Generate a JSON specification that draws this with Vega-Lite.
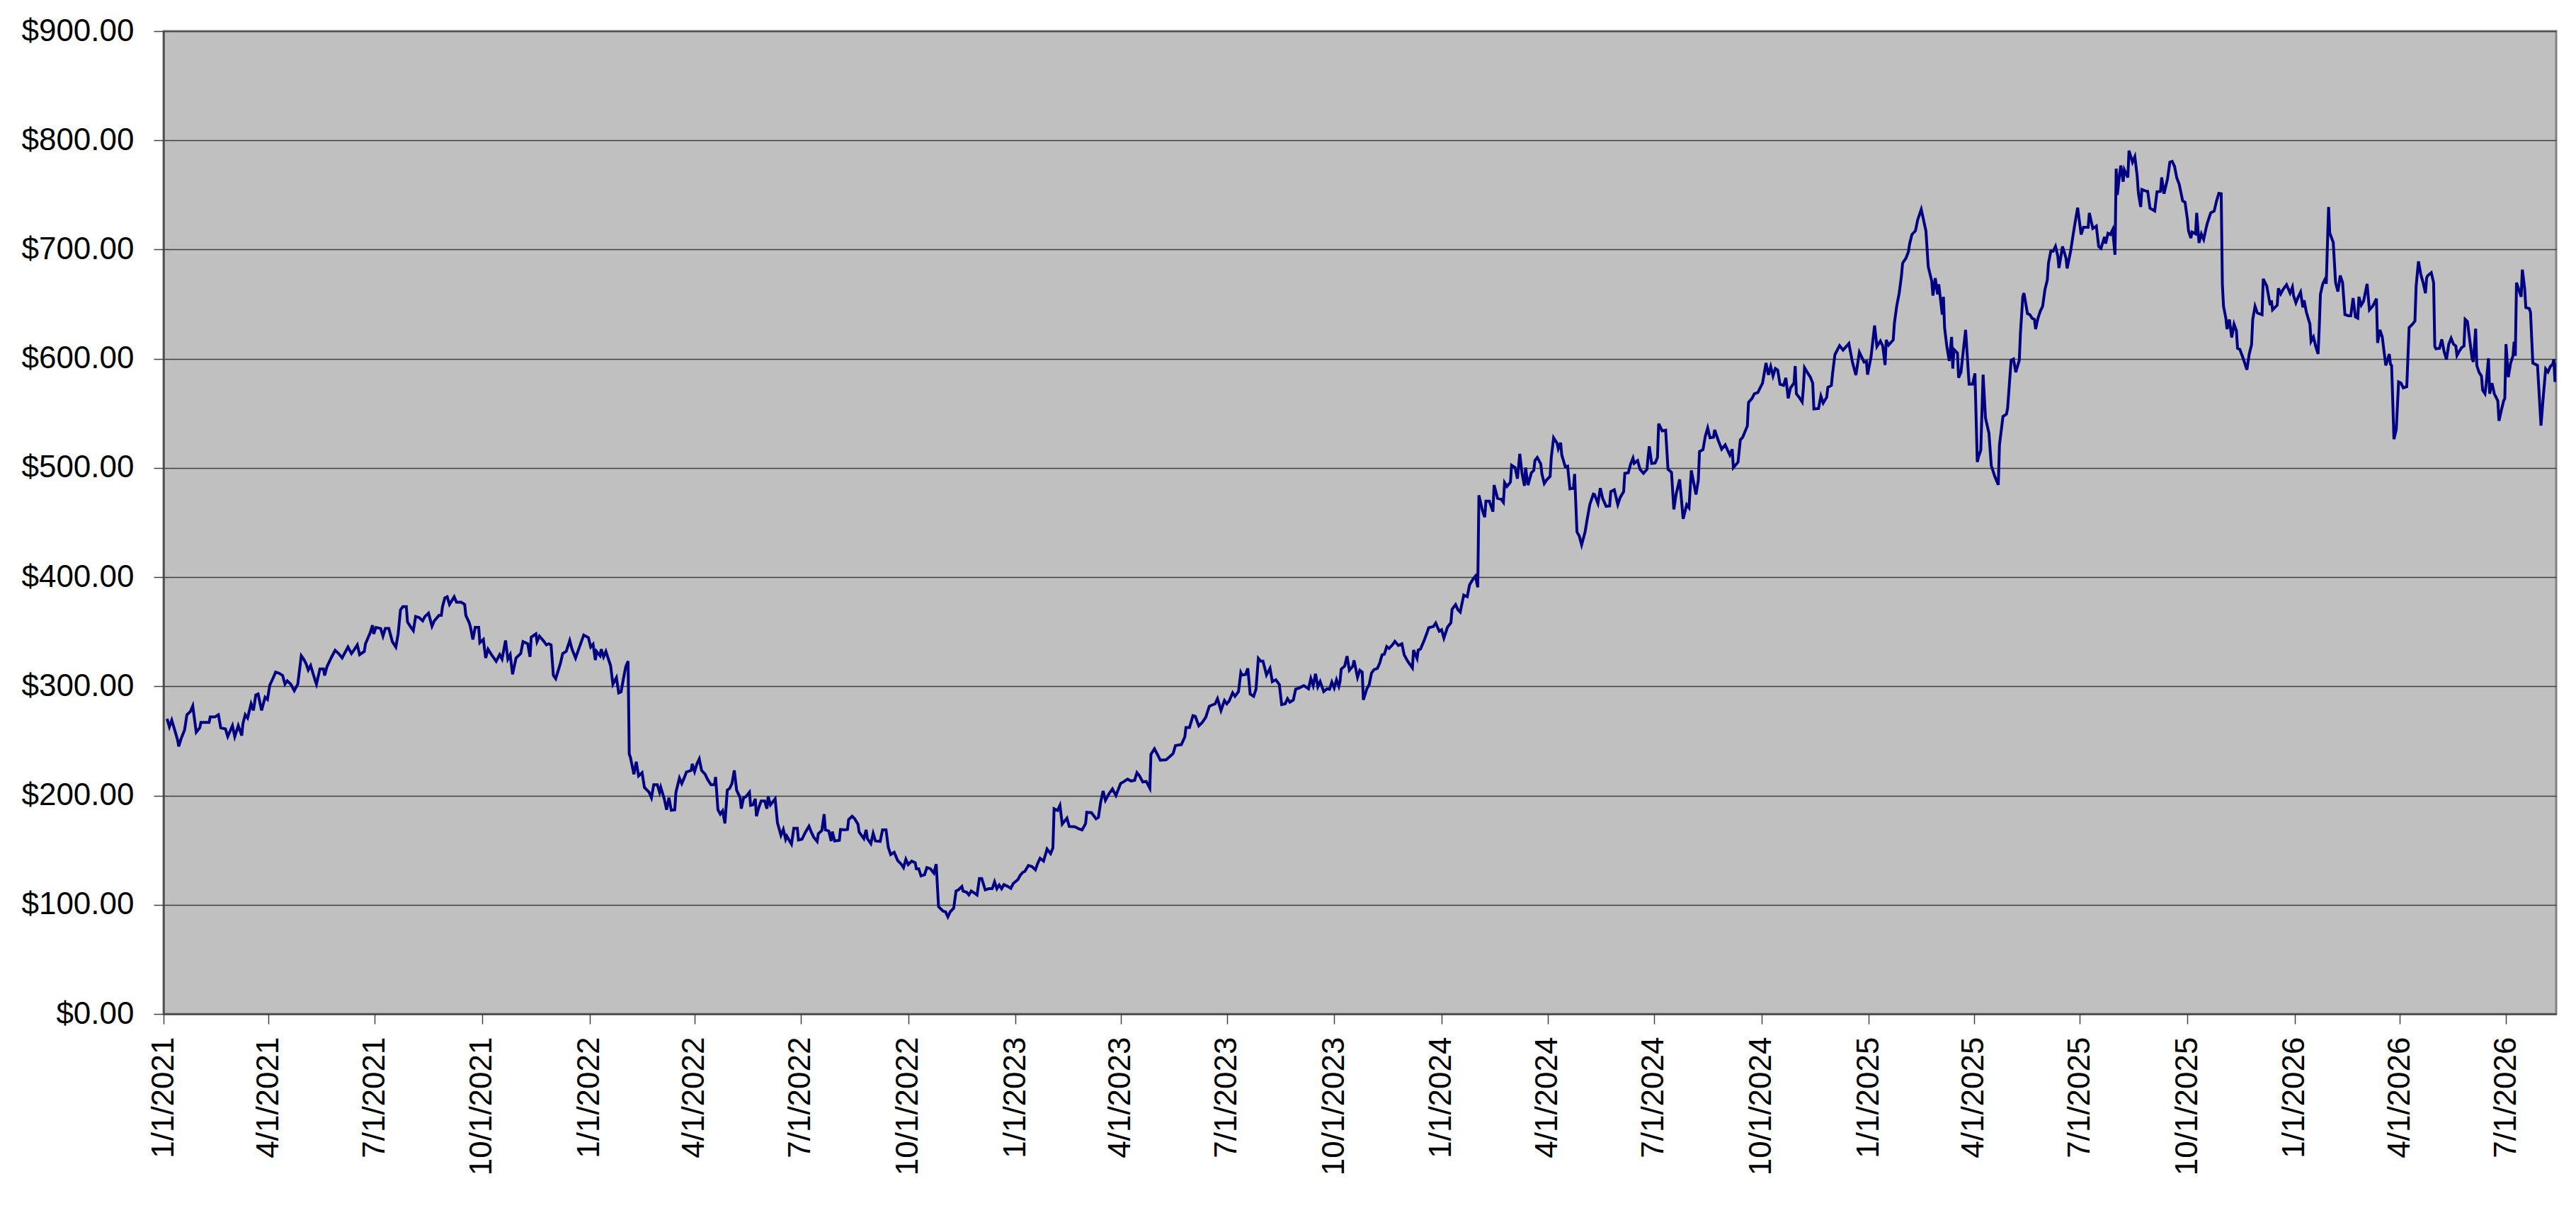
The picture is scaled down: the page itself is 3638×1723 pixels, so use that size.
{
  "$schema": "https://vega.github.io/schema/vega-lite/v6.json",
  "width": 3379,
  "height": 1388,
  "autosize": {"type": "none"},
  "padding": {"left": 231, "top": 44, "right": 28, "bottom": 291},
  "background": "white",
  "config": {
    "view": {"fill": "#C0C0C0", "stroke": "#808080", "strokeWidth": 3},
    "font": "Liberation Sans"
  },
  "data": {
    "values": [
      {"date": "2021-01-04", "price": 270.3}, {"date": "2021-01-06", "price": 263}, {"date": "2021-01-08", "price": 269}, {"date": "2021-01-10", "price": 262},
      {"date": "2021-01-13", "price": 251}, {"date": "2021-01-14", "price": 245}, {"date": "2021-01-16", "price": 252}, {"date": "2021-01-19", "price": 260},
      {"date": "2021-01-21", "price": 274}, {"date": "2021-01-24", "price": 277}, {"date": "2021-01-26", "price": 282}, {"date": "2021-01-29", "price": 258},
      {"date": "2021-02-01", "price": 262}, {"date": "2021-02-02", "price": 267}, {"date": "2021-02-06", "price": 267}, {"date": "2021-02-09", "price": 267},
      {"date": "2021-02-10", "price": 272}, {"date": "2021-02-14", "price": 272}, {"date": "2021-02-17", "price": 274}, {"date": "2021-02-19", "price": 262},
      {"date": "2021-02-23", "price": 261}, {"date": "2021-02-25", "price": 254}, {"date": "2021-03-01", "price": 264}, {"date": "2021-03-03", "price": 254},
      {"date": "2021-03-06", "price": 264}, {"date": "2021-03-09", "price": 255}, {"date": "2021-03-10", "price": 266}, {"date": "2021-03-12", "price": 274},
      {"date": "2021-03-14", "price": 271}, {"date": "2021-03-17", "price": 284}, {"date": "2021-03-19", "price": 278}, {"date": "2021-03-21", "price": 292},
      {"date": "2021-03-23", "price": 293}, {"date": "2021-03-26", "price": 278}, {"date": "2021-03-29", "price": 290}, {"date": "2021-03-31", "price": 288},
      {"date": "2021-04-02", "price": 301}, {"date": "2021-04-05", "price": 308}, {"date": "2021-04-07", "price": 313}, {"date": "2021-04-10", "price": 312},
      {"date": "2021-04-13", "price": 310}, {"date": "2021-04-15", "price": 302}, {"date": "2021-04-17", "price": 305}, {"date": "2021-04-20", "price": 302},
      {"date": "2021-04-23", "price": 296}, {"date": "2021-04-26", "price": 302}, {"date": "2021-04-29", "price": 328}, {"date": "2021-05-01", "price": 325},
      {"date": "2021-05-03", "price": 321}, {"date": "2021-05-05", "price": 315}, {"date": "2021-05-07", "price": 319}, {"date": "2021-05-11", "price": 305},
      {"date": "2021-05-12", "price": 302}, {"date": "2021-05-15", "price": 316}, {"date": "2021-05-18", "price": 316}, {"date": "2021-05-19", "price": 310},
      {"date": "2021-05-21", "price": 318}, {"date": "2021-05-25", "price": 327}, {"date": "2021-05-28", "price": 333}, {"date": "2021-05-31", "price": 330},
      {"date": "2021-06-03", "price": 326}, {"date": "2021-06-05", "price": 330}, {"date": "2021-06-08", "price": 336}, {"date": "2021-06-11", "price": 330},
      {"date": "2021-06-13", "price": 333}, {"date": "2021-06-16", "price": 338}, {"date": "2021-06-18", "price": 329}, {"date": "2021-06-22", "price": 332},
      {"date": "2021-06-23", "price": 339}, {"date": "2021-06-25", "price": 344}, {"date": "2021-06-27", "price": 349}, {"date": "2021-06-29", "price": 356},
      {"date": "2021-06-30", "price": 348}, {"date": "2021-07-02", "price": 354}, {"date": "2021-07-06", "price": 353}, {"date": "2021-07-08", "price": 346},
      {"date": "2021-07-10", "price": 353}, {"date": "2021-07-13", "price": 353}, {"date": "2021-07-16", "price": 341}, {"date": "2021-07-19", "price": 336},
      {"date": "2021-07-21", "price": 348}, {"date": "2021-07-23", "price": 370}, {"date": "2021-07-25", "price": 373}, {"date": "2021-07-28", "price": 373},
      {"date": "2021-07-29", "price": 359}, {"date": "2021-08-01", "price": 354}, {"date": "2021-08-03", "price": 351}, {"date": "2021-08-05", "price": 364},
      {"date": "2021-08-08", "price": 363}, {"date": "2021-08-11", "price": 360}, {"date": "2021-08-13", "price": 364}, {"date": "2021-08-16", "price": 367},
      {"date": "2021-08-19", "price": 355}, {"date": "2021-08-21", "price": 360}, {"date": "2021-08-25", "price": 365}, {"date": "2021-08-27", "price": 365},
      {"date": "2021-08-28", "price": 373}, {"date": "2021-08-30", "price": 381}, {"date": "2021-09-01", "price": 382}, {"date": "2021-09-03", "price": 375},
      {"date": "2021-09-07", "price": 382}, {"date": "2021-09-09", "price": 377}, {"date": "2021-09-13", "price": 377}, {"date": "2021-09-16", "price": 375},
      {"date": "2021-09-17", "price": 365}, {"date": "2021-09-20", "price": 358}, {"date": "2021-09-21", "price": 354}, {"date": "2021-09-23", "price": 343},
      {"date": "2021-09-25", "price": 354}, {"date": "2021-09-28", "price": 354}, {"date": "2021-09-29", "price": 340}, {"date": "2021-10-02", "price": 343},
      {"date": "2021-10-04", "price": 326}, {"date": "2021-10-06", "price": 334}, {"date": "2021-10-09", "price": 329}, {"date": "2021-10-13", "price": 323},
      {"date": "2021-10-16", "price": 329}, {"date": "2021-10-18", "price": 325}, {"date": "2021-10-21", "price": 342}, {"date": "2021-10-23", "price": 325},
      {"date": "2021-10-25", "price": 329}, {"date": "2021-10-27", "price": 311}, {"date": "2021-10-30", "price": 326}, {"date": "2021-11-03", "price": 330},
      {"date": "2021-11-05", "price": 341}, {"date": "2021-11-09", "price": 339}, {"date": "2021-11-11", "price": 327}, {"date": "2021-11-12", "price": 345},
      {"date": "2021-11-16", "price": 348}, {"date": "2021-11-17", "price": 341}, {"date": "2021-11-19", "price": 346}, {"date": "2021-11-23", "price": 341},
      {"date": "2021-11-25", "price": 338}, {"date": "2021-11-27", "price": 339}, {"date": "2021-11-29", "price": 338}, {"date": "2021-12-01", "price": 310},
      {"date": "2021-12-03", "price": 307}, {"date": "2021-12-07", "price": 321}, {"date": "2021-12-09", "price": 330}, {"date": "2021-12-12", "price": 332},
      {"date": "2021-12-15", "price": 342}, {"date": "2021-12-17", "price": 334}, {"date": "2021-12-20", "price": 326}, {"date": "2021-12-23", "price": 335},
      {"date": "2021-12-27", "price": 347}, {"date": "2021-12-31", "price": 344.6},
      {"date": "2022-01-02", "price": 336}, {"date": "2022-01-04", "price": 338.5}, {"date": "2022-01-06", "price": 324}, {"date": "2022-01-07", "price": 332},
      {"date": "2022-01-10", "price": 328}, {"date": "2022-01-11", "price": 334}, {"date": "2022-01-13", "price": 327}, {"date": "2022-01-15", "price": 332},
      {"date": "2022-01-17", "price": 325.5}, {"date": "2022-01-19", "price": 319}, {"date": "2022-01-21", "price": 302}, {"date": "2022-01-24", "price": 308},
      {"date": "2022-01-26", "price": 294}, {"date": "2022-01-28", "price": 295}, {"date": "2022-01-30", "price": 307}, {"date": "2022-02-01", "price": 318},
      {"date": "2022-02-03", "price": 323}, {"date": "2022-02-04", "price": 238}, {"date": "2022-02-05", "price": 235}, {"date": "2022-02-08", "price": 219.5},
      {"date": "2022-02-10", "price": 231}, {"date": "2022-02-12", "price": 218}, {"date": "2022-02-15", "price": 221}, {"date": "2022-02-17", "price": 207.5},
      {"date": "2022-02-21", "price": 203}, {"date": "2022-02-23", "price": 198}, {"date": "2022-02-25", "price": 210}, {"date": "2022-02-28", "price": 210},
      {"date": "2022-03-02", "price": 203}, {"date": "2022-03-03", "price": 207.5}, {"date": "2022-03-06", "price": 197}, {"date": "2022-03-08", "price": 187},
      {"date": "2022-03-10", "price": 198}, {"date": "2022-03-12", "price": 186.6}, {"date": "2022-03-15", "price": 187}, {"date": "2022-03-16", "price": 203},
      {"date": "2022-03-19", "price": 216}, {"date": "2022-03-21", "price": 211}, {"date": "2022-03-23", "price": 216}, {"date": "2022-03-25", "price": 221.6},
      {"date": "2022-03-29", "price": 223}, {"date": "2022-03-30", "price": 229}, {"date": "2022-04-01", "price": 222}, {"date": "2022-04-03", "price": 229},
      {"date": "2022-04-05", "price": 233.5}, {"date": "2022-04-07", "price": 223}, {"date": "2022-04-10", "price": 219.5}, {"date": "2022-04-12", "price": 215},
      {"date": "2022-04-15", "price": 210}, {"date": "2022-04-18", "price": 210}, {"date": "2022-04-19", "price": 217}, {"date": "2022-04-21", "price": 187},
      {"date": "2022-04-23", "price": 183}, {"date": "2022-04-25", "price": 186}, {"date": "2022-04-27", "price": 174.5}, {"date": "2022-04-29", "price": 205},
      {"date": "2022-05-01", "price": 206.5}, {"date": "2022-05-03", "price": 211}, {"date": "2022-05-05", "price": 223}, {"date": "2022-05-07", "price": 205},
      {"date": "2022-05-10", "price": 198}, {"date": "2022-05-11", "price": 188}, {"date": "2022-05-13", "price": 198}, {"date": "2022-05-15", "price": 199},
      {"date": "2022-05-18", "price": 203}, {"date": "2022-05-19", "price": 191}, {"date": "2022-05-21", "price": 191.5}, {"date": "2022-05-23", "price": 197},
      {"date": "2022-05-24", "price": 181}, {"date": "2022-05-26", "price": 189}, {"date": "2022-05-28", "price": 195}, {"date": "2022-05-31", "price": 195},
      {"date": "2022-06-02", "price": 188}, {"date": "2022-06-03", "price": 199}, {"date": "2022-06-05", "price": 191.5}, {"date": "2022-06-09", "price": 197},
      {"date": "2022-06-11", "price": 175}, {"date": "2022-06-14", "price": 163.6}, {"date": "2022-06-16", "price": 169}, {"date": "2022-06-18", "price": 160},
      {"date": "2022-06-19", "price": 162.8}, {"date": "2022-06-23", "price": 155.6}, {"date": "2022-06-25", "price": 170}, {"date": "2022-06-28", "price": 170},
      {"date": "2022-06-29", "price": 159.3}, {"date": "2022-07-02", "price": 160}, {"date": "2022-07-05", "price": 166.5}, {"date": "2022-07-08", "price": 172},
      {"date": "2022-07-10", "price": 166.5}, {"date": "2022-07-12", "price": 162}, {"date": "2022-07-15", "price": 158}, {"date": "2022-07-16", "price": 165},
      {"date": "2022-07-19", "price": 168}, {"date": "2022-07-21", "price": 183}, {"date": "2022-07-22", "price": 168.6}, {"date": "2022-07-25", "price": 167.5},
      {"date": "2022-07-27", "price": 158.4}, {"date": "2022-07-28", "price": 167}, {"date": "2022-07-30", "price": 158.4}, {"date": "2022-08-03", "price": 159},
      {"date": "2022-08-04", "price": 169}, {"date": "2022-08-07", "price": 168.6}, {"date": "2022-08-10", "price": 169}, {"date": "2022-08-11", "price": 178},
      {"date": "2022-08-14", "price": 181}, {"date": "2022-08-16", "price": 179}, {"date": "2022-08-19", "price": 173.6}, {"date": "2022-08-20", "price": 166.5},
      {"date": "2022-08-24", "price": 160.6}, {"date": "2022-08-26", "price": 168.6}, {"date": "2022-08-27", "price": 160.6}, {"date": "2022-08-30", "price": 156},
      {"date": "2022-09-01", "price": 165.4}, {"date": "2022-09-03", "price": 158.4}, {"date": "2022-09-07", "price": 158}, {"date": "2022-09-09", "price": 168.6},
      {"date": "2022-09-12", "price": 168.6}, {"date": "2022-09-14", "price": 152.4}, {"date": "2022-09-16", "price": 146}, {"date": "2022-09-19", "price": 148},
      {"date": "2022-09-22", "price": 140.5}, {"date": "2022-09-25", "price": 137.2}, {"date": "2022-09-27", "price": 134}, {"date": "2022-09-29", "price": 141.6},
      {"date": "2022-10-01", "price": 136.8}, {"date": "2022-10-04", "price": 140}, {"date": "2022-10-07", "price": 138.5}, {"date": "2022-10-08", "price": 133},
      {"date": "2022-10-10", "price": 133}, {"date": "2022-10-12", "price": 126.4}, {"date": "2022-10-15", "price": 127.5}, {"date": "2022-10-17", "price": 134},
      {"date": "2022-10-20", "price": 133}, {"date": "2022-10-23", "price": 129}, {"date": "2022-10-25", "price": 137.2}, {"date": "2022-10-27", "price": 98.3},
      {"date": "2022-10-29", "price": 96.1}, {"date": "2022-10-31", "price": 94}, {"date": "2022-11-02", "price": 93.5}, {"date": "2022-11-04", "price": 89},
      {"date": "2022-11-06", "price": 93.5}, {"date": "2022-11-09", "price": 97}, {"date": "2022-11-11", "price": 112.6}, {"date": "2022-11-13", "price": 113.6},
      {"date": "2022-11-16", "price": 116.7}, {"date": "2022-11-17", "price": 112.6}, {"date": "2022-11-20", "price": 111.5}, {"date": "2022-11-22", "price": 109},
      {"date": "2022-11-24", "price": 112.6}, {"date": "2022-11-27", "price": 110.5}, {"date": "2022-11-29", "price": 109}, {"date": "2022-12-01", "price": 124},
      {"date": "2022-12-03", "price": 124}, {"date": "2022-12-06", "price": 113.6}, {"date": "2022-12-09", "price": 114.7}, {"date": "2022-12-12", "price": 114.7},
      {"date": "2022-12-14", "price": 121}, {"date": "2022-12-16", "price": 114.7}, {"date": "2022-12-18", "price": 118}, {"date": "2022-12-20", "price": 114.7},
      {"date": "2022-12-22", "price": 118.4}, {"date": "2022-12-25", "price": 117}, {"date": "2022-12-28", "price": 115}, {"date": "2022-12-30", "price": 119.5},
      {"date": "2023-01-03", "price": 123}, {"date": "2023-01-05", "price": 127}, {"date": "2023-01-07", "price": 129.5}, {"date": "2023-01-09", "price": 130.6},
      {"date": "2023-01-12", "price": 136}, {"date": "2023-01-15", "price": 135}, {"date": "2023-01-18", "price": 132}, {"date": "2023-01-20", "price": 138},
      {"date": "2023-01-22", "price": 142.5}, {"date": "2023-01-25", "price": 140}, {"date": "2023-01-28", "price": 151}, {"date": "2023-01-31", "price": 146.8},
      {"date": "2023-02-02", "price": 152}, {"date": "2023-02-03", "price": 188}, {"date": "2023-02-06", "price": 186.4}, {"date": "2023-02-08", "price": 191},
      {"date": "2023-02-10", "price": 173.9}, {"date": "2023-02-14", "price": 179.3}, {"date": "2023-02-16", "price": 171.7}, {"date": "2023-02-21", "price": 171.3},
      {"date": "2023-02-24", "price": 169.6}, {"date": "2023-02-27", "price": 168.5}, {"date": "2023-03-02", "price": 174.3}, {"date": "2023-03-03", "price": 184.7},
      {"date": "2023-03-07", "price": 184.3}, {"date": "2023-03-11", "price": 178.7}, {"date": "2023-03-13", "price": 180}, {"date": "2023-03-15", "price": 194.5},
      {"date": "2023-03-17", "price": 204.2}, {"date": "2023-03-19", "price": 195.6}, {"date": "2023-03-22", "price": 201.6}, {"date": "2023-03-25", "price": 206},
      {"date": "2023-03-28", "price": 200}, {"date": "2023-04-01", "price": 211}, {"date": "2023-04-04", "price": 212.9}, {"date": "2023-04-07", "price": 215},
      {"date": "2023-04-10", "price": 213.3}, {"date": "2023-04-13", "price": 214}, {"date": "2023-04-15", "price": 221}, {"date": "2023-04-17", "price": 218.3},
      {"date": "2023-04-20", "price": 212.5}, {"date": "2023-04-23", "price": 212.9}, {"date": "2023-04-26", "price": 206.8}, {"date": "2023-04-27", "price": 237.8},
      {"date": "2023-04-30", "price": 242.8}, {"date": "2023-05-03", "price": 236.7}, {"date": "2023-05-05", "price": 232.4}, {"date": "2023-05-10", "price": 232.8},
      {"date": "2023-05-13", "price": 235.6}, {"date": "2023-05-16", "price": 238.5}, {"date": "2023-05-18", "price": 245.8}, {"date": "2023-05-22", "price": 246.5},
      {"date": "2023-05-23", "price": 246.5}, {"date": "2023-05-26", "price": 253.6}, {"date": "2023-05-27", "price": 262.3}, {"date": "2023-05-30", "price": 262.3},
      {"date": "2023-06-02", "price": 273.1}, {"date": "2023-06-04", "price": 272.5}, {"date": "2023-06-07", "price": 263.8}, {"date": "2023-06-10", "price": 267},
      {"date": "2023-06-13", "price": 271.8}, {"date": "2023-06-16", "price": 281.8}, {"date": "2023-06-18", "price": 282.7}, {"date": "2023-06-21", "price": 284},
      {"date": "2023-06-23", "price": 288.7}, {"date": "2023-06-26", "price": 277.9}, {"date": "2023-06-29", "price": 287}, {"date": "2023-07-01", "price": 284},
      {"date": "2023-07-03", "price": 286.6}, {"date": "2023-07-06", "price": 294.1}, {"date": "2023-07-08", "price": 290.9}, {"date": "2023-07-11", "price": 295.2},
      {"date": "2023-07-13", "price": 312.6}, {"date": "2023-07-14", "price": 310.4}, {"date": "2023-07-17", "price": 310.8}, {"date": "2023-07-19", "price": 316.5},
      {"date": "2023-07-21", "price": 293}, {"date": "2023-07-24", "price": 290.9}, {"date": "2023-07-26", "price": 297.4}, {"date": "2023-07-28", "price": 325.6},
      {"date": "2023-07-30", "price": 323}, {"date": "2023-08-01", "price": 323}, {"date": "2023-08-04", "price": 310.4}, {"date": "2023-08-07", "price": 316.5},
      {"date": "2023-08-09", "price": 304.3}, {"date": "2023-08-12", "price": 306}, {"date": "2023-08-15", "price": 301.7}, {"date": "2023-08-17", "price": 283.3},
      {"date": "2023-08-20", "price": 284}, {"date": "2023-08-22", "price": 288.7}, {"date": "2023-08-24", "price": 285.5}, {"date": "2023-08-27", "price": 287.6},
      {"date": "2023-08-29", "price": 297.4}, {"date": "2023-09-01", "price": 298.5}, {"date": "2023-09-05", "price": 300.7}, {"date": "2023-09-09", "price": 297.8},
      {"date": "2023-09-11", "price": 307.2}, {"date": "2023-09-13", "price": 300.7}, {"date": "2023-09-15", "price": 311.5}, {"date": "2023-09-17", "price": 299.6},
      {"date": "2023-09-19", "price": 304.3}, {"date": "2023-09-22", "price": 295.2}, {"date": "2023-09-25", "price": 297.8}, {"date": "2023-09-27", "price": 297.4},
      {"date": "2023-09-29", "price": 303.9}, {"date": "2023-10-01", "price": 298.5}, {"date": "2023-10-03", "price": 306}, {"date": "2023-10-05", "price": 300},
      {"date": "2023-10-06", "price": 304.3}, {"date": "2023-10-07", "price": 315.8}, {"date": "2023-10-10", "price": 318.6}, {"date": "2023-10-12", "price": 327.7},
      {"date": "2023-10-14", "price": 314.7}, {"date": "2023-10-17", "price": 318.6}, {"date": "2023-10-18", "price": 323.8}, {"date": "2023-10-21", "price": 308.2},
      {"date": "2023-10-23", "price": 314.7}, {"date": "2023-10-25", "price": 313}, {"date": "2023-10-26", "price": 287.6}, {"date": "2023-10-29", "price": 297.8},
      {"date": "2023-10-31", "price": 301.7}, {"date": "2023-11-02", "price": 312.1}, {"date": "2023-11-04", "price": 315.2}, {"date": "2023-11-07", "price": 316.5},
      {"date": "2023-11-09", "price": 321.2}, {"date": "2023-11-11", "price": 328.8}, {"date": "2023-11-13", "price": 329.5}, {"date": "2023-11-15", "price": 336.4},
      {"date": "2023-11-17", "price": 334.7}, {"date": "2023-11-20", "price": 338.1}, {"date": "2023-11-22", "price": 341.2}, {"date": "2023-11-25", "price": 337.5},
      {"date": "2023-11-28", "price": 339}, {"date": "2023-11-30", "price": 328.8}, {"date": "2023-12-03", "price": 323}, {"date": "2023-12-07", "price": 316.9},
      {"date": "2023-12-08", "price": 333.2}, {"date": "2023-12-11", "price": 325.6}, {"date": "2023-12-12", "price": 333.2}, {"date": "2023-12-14", "price": 334.2},
      {"date": "2023-12-17", "price": 341.8}, {"date": "2023-12-20", "price": 350.5}, {"date": "2023-12-21", "price": 353.7}, {"date": "2023-12-25", "price": 354.8},
      {"date": "2023-12-27", "price": 358}, {"date": "2023-12-30", "price": 350.5},
      {"date": "2024-01-01", "price": 351.8}, {"date": "2024-01-03", "price": 344.2}, {"date": "2024-01-06", "price": 354}, {"date": "2024-01-09", "price": 358.3},
      {"date": "2024-01-10", "price": 370.6}, {"date": "2024-01-13", "price": 374.9}, {"date": "2024-01-15", "price": 370.2}, {"date": "2024-01-17", "price": 368},
      {"date": "2024-01-20", "price": 383.6}, {"date": "2024-01-23", "price": 382.1}, {"date": "2024-01-25", "price": 392.9}, {"date": "2024-01-28", "price": 398.3},
      {"date": "2024-01-30", "price": 400.9}, {"date": "2024-02-01", "price": 390.7}, {"date": "2024-02-02", "price": 475}, {"date": "2024-02-05", "price": 461},
      {"date": "2024-02-07", "price": 454.9}, {"date": "2024-02-08", "price": 469.6}, {"date": "2024-02-11", "price": 469.6}, {"date": "2024-02-14", "price": 459.9},
      {"date": "2024-02-15", "price": 484.3}, {"date": "2024-02-18", "price": 472.2}, {"date": "2024-02-21", "price": 471.4}, {"date": "2024-02-23", "price": 468.5},
      {"date": "2024-02-24", "price": 486.5}, {"date": "2024-02-26", "price": 483}, {"date": "2024-02-29", "price": 486.9}, {"date": "2024-03-01", "price": 502.5},
      {"date": "2024-03-04", "price": 500.3}, {"date": "2024-03-06", "price": 490.2}, {"date": "2024-03-08", "price": 512.9}, {"date": "2024-03-10", "price": 494.5},
      {"date": "2024-03-12", "price": 483.7}, {"date": "2024-03-13", "price": 500.3}, {"date": "2024-03-15", "price": 484.3}, {"date": "2024-03-18", "price": 495.6},
      {"date": "2024-03-20", "price": 497.7}, {"date": "2024-03-21", "price": 506.8}, {"date": "2024-03-23", "price": 509.6}, {"date": "2024-03-26", "price": 503.8},
      {"date": "2024-03-27", "price": 494.5}, {"date": "2024-03-29", "price": 485.8}, {"date": "2024-03-31", "price": 489}, {"date": "2024-04-03", "price": 492.3},
      {"date": "2024-04-04", "price": 509.6}, {"date": "2024-04-06", "price": 527.6}, {"date": "2024-04-09", "price": 522.6}, {"date": "2024-04-10", "price": 517.6},
      {"date": "2024-04-12", "price": 523.2}, {"date": "2024-04-13", "price": 511.8}, {"date": "2024-04-16", "price": 501}, {"date": "2024-04-18", "price": 501.6},
      {"date": "2024-04-20", "price": 480.9}, {"date": "2024-04-23", "price": 481.5}, {"date": "2024-04-24", "price": 494.5}, {"date": "2024-04-26", "price": 441.5},
      {"date": "2024-04-28", "price": 437.6}, {"date": "2024-04-30", "price": 429.6}, {"date": "2024-05-03", "price": 441.5}, {"date": "2024-05-05", "price": 454.5},
      {"date": "2024-05-07", "price": 466.4}, {"date": "2024-05-10", "price": 476.1}, {"date": "2024-05-11", "price": 475.7}, {"date": "2024-05-14", "price": 467.5},
      {"date": "2024-05-16", "price": 481.5}, {"date": "2024-05-18", "price": 472.2}, {"date": "2024-05-21", "price": 464.9}, {"date": "2024-05-24", "price": 465.3},
      {"date": "2024-05-25", "price": 478.3}, {"date": "2024-05-28", "price": 480}, {"date": "2024-05-31", "price": 466.4}, {"date": "2024-06-02", "price": 472.9},
      {"date": "2024-06-05", "price": 478.3}, {"date": "2024-06-06", "price": 495.1}, {"date": "2024-06-09", "price": 495.6}, {"date": "2024-06-11", "price": 503.8},
      {"date": "2024-06-13", "price": 509}, {"date": "2024-06-14", "price": 504.2}, {"date": "2024-06-17", "price": 506.8}, {"date": "2024-06-19", "price": 498.8},
      {"date": "2024-06-22", "price": 495.1}, {"date": "2024-06-25", "price": 498.8}, {"date": "2024-06-26", "price": 510.7}, {"date": "2024-06-27", "price": 519.8},
      {"date": "2024-06-29", "price": 504.2}, {"date": "2024-07-02", "price": 504.6}, {"date": "2024-07-04", "price": 509.6}, {"date": "2024-07-05", "price": 540.5},
      {"date": "2024-07-08", "price": 534}, {"date": "2024-07-11", "price": 534.5}, {"date": "2024-07-13", "price": 498.8}, {"date": "2024-07-16", "price": 496},
      {"date": "2024-07-18", "price": 462}, {"date": "2024-07-20", "price": 476.1}, {"date": "2024-07-23", "price": 489.5}, {"date": "2024-07-26", "price": 453.4},
      {"date": "2024-07-29", "price": 466.4}, {"date": "2024-07-31", "price": 463.6}, {"date": "2024-08-02", "price": 497.7}, {"date": "2024-08-06", "price": 475.7},
      {"date": "2024-08-08", "price": 489}, {"date": "2024-08-09", "price": 515}, {"date": "2024-08-12", "price": 516.8}, {"date": "2024-08-14", "price": 529.1},
      {"date": "2024-08-16", "price": 536.6}, {"date": "2024-08-18", "price": 527.6}, {"date": "2024-08-21", "price": 528.1}, {"date": "2024-08-22", "price": 534.9},
      {"date": "2024-08-25", "price": 525.4}, {"date": "2024-08-28", "price": 517.2}, {"date": "2024-08-31", "price": 521.1}, {"date": "2024-09-04", "price": 511.8},
      {"date": "2024-09-06", "price": 517.2}, {"date": "2024-09-07", "price": 500.3}, {"date": "2024-09-11", "price": 505.3}, {"date": "2024-09-13", "price": 525.8},
      {"date": "2024-09-15", "price": 528.1}, {"date": "2024-09-17", "price": 533.4}, {"date": "2024-09-19", "price": 538.4}, {"date": "2024-09-20", "price": 560},
      {"date": "2024-09-23", "price": 563.7}, {"date": "2024-09-25", "price": 568}, {"date": "2024-09-28", "price": 569.1}, {"date": "2024-09-30", "price": 573.4},
      {"date": "2024-10-02", "price": 577.7}, {"date": "2024-10-05", "price": 596.1}, {"date": "2024-10-07", "price": 585.3}, {"date": "2024-10-09", "price": 592.9},
      {"date": "2024-10-11", "price": 584.2}, {"date": "2024-10-13", "price": 591.1}, {"date": "2024-10-15", "price": 589.6}, {"date": "2024-10-17", "price": 576.6},
      {"date": "2024-10-20", "price": 575.6}, {"date": "2024-10-22", "price": 582.5}, {"date": "2024-10-24", "price": 563.7}, {"date": "2024-10-26", "price": 573.4},
      {"date": "2024-10-29", "price": 577.7}, {"date": "2024-10-30", "price": 593.3}, {"date": "2024-10-31", "price": 568}, {"date": "2024-11-03", "price": 563.7},
      {"date": "2024-11-05", "price": 560.4}, {"date": "2024-11-06", "price": 573.4}, {"date": "2024-11-07", "price": 591.8}, {"date": "2024-11-10", "price": 586.4},
      {"date": "2024-11-12", "price": 583.1}, {"date": "2024-11-14", "price": 577.7}, {"date": "2024-11-15", "price": 554}, {"date": "2024-11-19", "price": 554.4},
      {"date": "2024-11-21", "price": 565.8}, {"date": "2024-11-23", "price": 559.4}, {"date": "2024-11-26", "price": 564.8}, {"date": "2024-11-27", "price": 573.8},
      {"date": "2024-11-30", "price": 575.6}, {"date": "2024-12-01", "price": 586.4}, {"date": "2024-12-03", "price": 603.7}, {"date": "2024-12-07", "price": 612},
      {"date": "2024-12-10", "price": 608}, {"date": "2024-12-15", "price": 614}, {"date": "2024-12-18", "price": 597}, {"date": "2024-12-21", "price": 585},
      {"date": "2024-12-24", "price": 606}, {"date": "2024-12-28", "price": 597}, {"date": "2024-12-30", "price": 597.6}, {"date": "2024-12-31", "price": 585.5},
      {"date": "2025-01-03", "price": 602}, {"date": "2025-01-06", "price": 630.5}, {"date": "2025-01-08", "price": 611.2}, {"date": "2025-01-11", "price": 616.2},
      {"date": "2025-01-13", "price": 611.8}, {"date": "2025-01-15", "price": 594.3}, {"date": "2025-01-16", "price": 617.3}, {"date": "2025-01-18", "price": 612.5},
      {"date": "2025-01-22", "price": 617.3}, {"date": "2025-01-23", "price": 632.7}, {"date": "2025-01-25", "price": 648.5}, {"date": "2025-01-27", "price": 659.4},
      {"date": "2025-01-29", "price": 675.4}, {"date": "2025-01-30", "price": 687.5}, {"date": "2025-02-02", "price": 692.3}, {"date": "2025-02-04", "price": 698},
      {"date": "2025-02-05", "price": 705}, {"date": "2025-02-07", "price": 713.8}, {"date": "2025-02-10", "price": 717.1}, {"date": "2025-02-12", "price": 727.4},
      {"date": "2025-02-15", "price": 736.8}, {"date": "2025-02-17", "price": 727}, {"date": "2025-02-19", "price": 717.1}, {"date": "2025-02-21", "price": 684.2},
      {"date": "2025-02-24", "price": 671.1}, {"date": "2025-02-25", "price": 657.9}, {"date": "2025-02-27", "price": 673.9}, {"date": "2025-03-01", "price": 659},
      {"date": "2025-03-02", "price": 668.2}, {"date": "2025-03-05", "price": 640.4}, {"date": "2025-03-06", "price": 656.8}, {"date": "2025-03-07", "price": 628.3},
      {"date": "2025-03-09", "price": 610.7}, {"date": "2025-03-11", "price": 598}, {"date": "2025-03-13", "price": 620}, {"date": "2025-03-14", "price": 591},
      {"date": "2025-03-15", "price": 608.6}, {"date": "2025-03-18", "price": 605.3}, {"date": "2025-03-19", "price": 582.7}, {"date": "2025-03-21", "price": 587.7},
      {"date": "2025-03-25", "price": 626.5}, {"date": "2025-03-28", "price": 576.8}, {"date": "2025-03-31", "price": 576.8}, {"date": "2025-04-02", "price": 586.6},
      {"date": "2025-04-04", "price": 505.5}, {"date": "2025-04-05", "price": 509.9}, {"date": "2025-04-07", "price": 516.4}, {"date": "2025-04-09", "price": 585.5},
      {"date": "2025-04-11", "price": 546}, {"date": "2025-04-14", "price": 531.8}, {"date": "2025-04-16", "price": 502.2}, {"date": "2025-04-19", "price": 492.3},
      {"date": "2025-04-22", "price": 484.6}, {"date": "2025-04-23", "price": 520.8}, {"date": "2025-04-26", "price": 547.1}, {"date": "2025-04-29", "price": 549.3},
      {"date": "2025-04-30", "price": 554.8}, {"date": "2025-05-03", "price": 598.7}, {"date": "2025-05-05", "price": 599.8}, {"date": "2025-05-07", "price": 587.7},
      {"date": "2025-05-10", "price": 598.7}, {"date": "2025-05-11", "price": 623.9}, {"date": "2025-05-13", "price": 656.8}, {"date": "2025-05-14", "price": 660.1},
      {"date": "2025-05-17", "price": 641.4}, {"date": "2025-05-19", "price": 640.4}, {"date": "2025-05-21", "price": 637.1}, {"date": "2025-05-23", "price": 636},
      {"date": "2025-05-24", "price": 627.2}, {"date": "2025-05-26", "price": 637.1}, {"date": "2025-05-28", "price": 643.6}, {"date": "2025-05-30", "price": 648},
      {"date": "2025-06-01", "price": 663.4}, {"date": "2025-06-03", "price": 672.1}, {"date": "2025-06-04", "price": 687.5}, {"date": "2025-06-06", "price": 698.5},
      {"date": "2025-06-08", "price": 698.5}, {"date": "2025-06-10", "price": 702.9}, {"date": "2025-06-12", "price": 694.1}, {"date": "2025-06-13", "price": 683.1},
      {"date": "2025-06-15", "price": 696.2}, {"date": "2025-06-16", "price": 702.9}, {"date": "2025-06-19", "price": 692.3}, {"date": "2025-06-20", "price": 682.7},
      {"date": "2025-06-23", "price": 698.5}, {"date": "2025-06-25", "price": 712.7}, {"date": "2025-06-27", "price": 725.9}, {"date": "2025-06-29", "price": 738.4},
      {"date": "2025-07-02", "price": 713.8}, {"date": "2025-07-04", "price": 720.4}, {"date": "2025-07-08", "price": 720.4}, {"date": "2025-07-09", "price": 733.6},
      {"date": "2025-07-12", "price": 719.3}, {"date": "2025-07-15", "price": 721.5}, {"date": "2025-07-17", "price": 702.9}, {"date": "2025-07-19", "price": 701.1},
      {"date": "2025-07-22", "price": 711.6}, {"date": "2025-07-23", "price": 705.5}, {"date": "2025-07-25", "price": 714.9}, {"date": "2025-07-27", "price": 713.8},
      {"date": "2025-07-29", "price": 718.2}, {"date": "2025-07-31", "price": 695.2}, {"date": "2025-08-01", "price": 774.1}, {"date": "2025-08-02", "price": 750},
      {"date": "2025-08-04", "price": 769.7}, {"date": "2025-08-05", "price": 777}, {"date": "2025-08-07", "price": 762.1}, {"date": "2025-08-08", "price": 773},
      {"date": "2025-08-11", "price": 766}, {"date": "2025-08-12", "price": 790.6}, {"date": "2025-08-15", "price": 780}, {"date": "2025-08-17", "price": 785.1},
      {"date": "2025-08-19", "price": 767.5}, {"date": "2025-08-20", "price": 752.2}, {"date": "2025-08-22", "price": 739}, {"date": "2025-08-23", "price": 755},
      {"date": "2025-08-26", "price": 753.7}, {"date": "2025-08-28", "price": 753.3}, {"date": "2025-08-30", "price": 737.9}, {"date": "2025-09-03", "price": 735.3},
      {"date": "2025-09-05", "price": 752.9}, {"date": "2025-09-08", "price": 753.3}, {"date": "2025-09-09", "price": 766}, {"date": "2025-09-11", "price": 751.1},
      {"date": "2025-09-14", "price": 764.7}, {"date": "2025-09-16", "price": 780}, {"date": "2025-09-18", "price": 780.7}, {"date": "2025-09-20", "price": 776.3},
      {"date": "2025-09-22", "price": 765.4}, {"date": "2025-09-24", "price": 759.9}, {"date": "2025-09-27", "price": 744.5}, {"date": "2025-09-29", "price": 743.4},
      {"date": "2025-10-01", "price": 728.1}, {"date": "2025-10-02", "price": 717.1}, {"date": "2025-10-04", "price": 710.5}, {"date": "2025-10-05", "price": 716},
      {"date": "2025-10-08", "price": 714.3}, {"date": "2025-10-09", "price": 733.6}, {"date": "2025-10-11", "price": 706.1}, {"date": "2025-10-13", "price": 714.3},
      {"date": "2025-10-15", "price": 709.4}, {"date": "2025-10-17", "price": 719.3}, {"date": "2025-10-18", "price": 723.7}, {"date": "2025-10-21", "price": 733.6},
      {"date": "2025-10-24", "price": 735.3}, {"date": "2025-10-26", "price": 744.5}, {"date": "2025-10-28", "price": 751.5}, {"date": "2025-10-30", "price": 751.1},
      {"date": "2025-10-31", "price": 667.8}, {"date": "2025-11-01", "price": 648}, {"date": "2025-11-03", "price": 637.1}, {"date": "2025-11-04", "price": 627.2},
      {"date": "2025-11-06", "price": 636}, {"date": "2025-11-08", "price": 619.5}, {"date": "2025-11-10", "price": 631.6}, {"date": "2025-11-12", "price": 625.7},
      {"date": "2025-11-13", "price": 609.6}, {"date": "2025-11-15", "price": 608.6}, {"date": "2025-11-18", "price": 599.8}, {"date": "2025-11-21", "price": 589.9},
      {"date": "2025-11-23", "price": 604.2}, {"date": "2025-11-25", "price": 612.9}, {"date": "2025-11-26", "price": 636}, {"date": "2025-11-28", "price": 648},
      {"date": "2025-11-30", "price": 641.9}, {"date": "2025-12-04", "price": 640.4}, {"date": "2025-12-05", "price": 673.2}, {"date": "2025-12-08", "price": 666.7},
      {"date": "2025-12-11", "price": 649.1}, {"date": "2025-12-12", "price": 653.5}, {"date": "2025-12-13", "price": 644.7}, {"date": "2025-12-17", "price": 649.1},
      {"date": "2025-12-18", "price": 664.5}, {"date": "2025-12-20", "price": 659.4}, {"date": "2025-12-22", "price": 663.4}, {"date": "2025-12-25", "price": 667.8},
      {"date": "2025-12-28", "price": 660.1}, {"date": "2025-12-30", "price": 665.6}, {"date": "2025-12-31", "price": 657.8},
      {"date": "2026-01-02", "price": 651.3}, {"date": "2026-01-04", "price": 656.7}, {"date": "2026-01-06", "price": 661}, {"date": "2026-01-08", "price": 647},
      {"date": "2026-01-09", "price": 653.5}, {"date": "2026-01-11", "price": 642.6}, {"date": "2026-01-14", "price": 631.8}, {"date": "2026-01-15", "price": 616},
      {"date": "2026-01-17", "price": 619.9}, {"date": "2026-01-19", "price": 611.3}, {"date": "2026-01-21", "price": 604.3}, {"date": "2026-01-22", "price": 628.6},
      {"date": "2026-01-23", "price": 658.9}, {"date": "2026-01-25", "price": 668.6}, {"date": "2026-01-27", "price": 672.9}, {"date": "2026-01-28", "price": 668.6},
      {"date": "2026-01-30", "price": 739}, {"date": "2026-01-31", "price": 715.2}, {"date": "2026-02-03", "price": 706.5}, {"date": "2026-02-05", "price": 669.7},
      {"date": "2026-02-07", "price": 661.5}, {"date": "2026-02-09", "price": 676.2}, {"date": "2026-02-11", "price": 669.7}, {"date": "2026-02-13", "price": 640.5},
      {"date": "2026-02-16", "price": 639.4}, {"date": "2026-02-18", "price": 639.4}, {"date": "2026-02-20", "price": 655.6}, {"date": "2026-02-22", "price": 638.3},
      {"date": "2026-02-24", "price": 637.2}, {"date": "2026-02-25", "price": 656.7}, {"date": "2026-02-27", "price": 649.1}, {"date": "2026-03-01", "price": 652.8},
      {"date": "2026-03-04", "price": 668.6}, {"date": "2026-03-06", "price": 644.8}, {"date": "2026-03-09", "price": 648.5}, {"date": "2026-03-12", "price": 655},
      {"date": "2026-03-13", "price": 614.5}, {"date": "2026-03-15", "price": 626.4}, {"date": "2026-03-17", "price": 619.9}, {"date": "2026-03-20", "price": 593.9},
      {"date": "2026-03-21", "price": 597.2}, {"date": "2026-03-23", "price": 604.3}, {"date": "2026-03-24", "price": 595}, {"date": "2026-03-25", "price": 593.9},
      {"date": "2026-03-27", "price": 526.4}, {"date": "2026-03-29", "price": 535.5}, {"date": "2026-03-31", "price": 578.8}, {"date": "2026-04-02", "price": 577.7},
      {"date": "2026-04-04", "price": 573.4}, {"date": "2026-04-07", "price": 574.5}, {"date": "2026-04-09", "price": 628.6}, {"date": "2026-04-12", "price": 631.8},
      {"date": "2026-04-14", "price": 634.6}, {"date": "2026-04-15", "price": 666.4}, {"date": "2026-04-17", "price": 689.2}, {"date": "2026-04-19", "price": 677.3},
      {"date": "2026-04-21", "price": 669.7}, {"date": "2026-04-23", "price": 660}, {"date": "2026-04-24", "price": 674}, {"date": "2026-04-25", "price": 676.2},
      {"date": "2026-04-28", "price": 678.8}, {"date": "2026-04-30", "price": 669.7}, {"date": "2026-05-01", "price": 611.3}, {"date": "2026-05-02", "price": 609.1},
      {"date": "2026-05-05", "price": 609.5}, {"date": "2026-05-07", "price": 617.7}, {"date": "2026-05-09", "price": 606.5}, {"date": "2026-05-11", "price": 599.4},
      {"date": "2026-05-13", "price": 613.4}, {"date": "2026-05-15", "price": 618.8}, {"date": "2026-05-17", "price": 613.4}, {"date": "2026-05-19", "price": 611.7},
      {"date": "2026-05-20", "price": 603}, {"date": "2026-05-22", "price": 606.9}, {"date": "2026-05-24", "price": 610.2}, {"date": "2026-05-26", "price": 611.7},
      {"date": "2026-05-27", "price": 636.1}, {"date": "2026-05-29", "price": 634}, {"date": "2026-05-31", "price": 616.7}, {"date": "2026-06-02", "price": 600},
      {"date": "2026-06-03", "price": 597.2}, {"date": "2026-06-05", "price": 627.5}, {"date": "2026-06-06", "price": 593.9}, {"date": "2026-06-08", "price": 587.4},
      {"date": "2026-06-10", "price": 584.2}, {"date": "2026-06-11", "price": 571.2}, {"date": "2026-06-13", "price": 568}, {"date": "2026-06-14", "price": 576.6},
      {"date": "2026-06-16", "price": 600.4}, {"date": "2026-06-17", "price": 568}, {"date": "2026-06-19", "price": 577.7}, {"date": "2026-06-21", "price": 568},
      {"date": "2026-06-24", "price": 561.5}, {"date": "2026-06-25", "price": 543.1}, {"date": "2026-06-27", "price": 552.8}, {"date": "2026-06-29", "price": 561.5},
      {"date": "2026-06-30", "price": 563.6}, {"date": "2026-07-01", "price": 613.4}, {"date": "2026-07-03", "price": 583.1}, {"date": "2026-07-05", "price": 596.1},
      {"date": "2026-07-07", "price": 602.6}, {"date": "2026-07-08", "price": 615.6}, {"date": "2026-07-09", "price": 602.6}, {"date": "2026-07-10", "price": 669.7},
      {"date": "2026-07-12", "price": 663.2}, {"date": "2026-07-14", "price": 656.7}, {"date": "2026-07-15", "price": 681.6}, {"date": "2026-07-17", "price": 664.3},
      {"date": "2026-07-18", "price": 647}, {"date": "2026-07-21", "price": 645.9}, {"date": "2026-07-22", "price": 642.6}, {"date": "2026-07-24", "price": 596.1},
      {"date": "2026-07-26", "price": 595}, {"date": "2026-07-28", "price": 593.9}, {"date": "2026-07-31", "price": 538.7}, {"date": "2026-08-02", "price": 565.8},
      {"date": "2026-08-04", "price": 590.7}, {"date": "2026-08-06", "price": 587.9}, {"date": "2026-08-08", "price": 592.9}, {"date": "2026-08-10", "price": 595},
      {"date": "2026-08-11", "price": 599.4}, {"date": "2026-08-12", "price": 578.8}, {"date": "2026-08-13", "price": 596.1}
    ]
  },
  "mark": {"type": "line", "color": "#000080", "strokeWidth": 4, "clip": true},
  "encoding": {
    "x": {
      "field": "date",
      "type": "temporal",
      "scale": {
        "domain": [{"year": 2021, "month": 1, "date": 1}, {"year": 2026, "month": 8, "date": 13}],
        "nice": false
      },
      "axis": {
        "title": null,
        "format": "%-m/%-d/%Y",
        "values": [
          {"year": 2021, "month": 1, "date": 1}, {"year": 2021, "month": 4, "date": 1}, {"year": 2021, "month": 7, "date": 1}, {"year": 2021, "month": 10, "date": 1},
          {"year": 2022, "month": 1, "date": 1}, {"year": 2022, "month": 4, "date": 1}, {"year": 2022, "month": 7, "date": 1}, {"year": 2022, "month": 10, "date": 1},
          {"year": 2023, "month": 1, "date": 1}, {"year": 2023, "month": 4, "date": 1}, {"year": 2023, "month": 7, "date": 1}, {"year": 2023, "month": 10, "date": 1},
          {"year": 2024, "month": 1, "date": 1}, {"year": 2024, "month": 4, "date": 1}, {"year": 2024, "month": 7, "date": 1}, {"year": 2024, "month": 10, "date": 1},
          {"year": 2025, "month": 1, "date": 1}, {"year": 2025, "month": 4, "date": 1}, {"year": 2025, "month": 7, "date": 1}, {"year": 2025, "month": 10, "date": 1},
          {"year": 2026, "month": 1, "date": 1}, {"year": 2026, "month": 4, "date": 1}, {"year": 2026, "month": 7, "date": 1}
        ],
        "labelAngle": -90,
        "labelAlign": "right",
        "labelBaseline": "middle",
        "labelFont": "Liberation Sans",
        "labelFontSize": 44,
        "labelColor": "#000000",
        "labelPadding": 18,
        "labelLimit": 0,
        "labelOverlap": false,
        "labelFlush": false,
        "grid": false,
        "domainColor": "#404040",
        "domainWidth": 2,
        "tickColor": "#404040",
        "tickWidth": 1.5,
        "tickSize": 14
      }
    },
    "y": {
      "field": "price",
      "type": "quantitative",
      "scale": {"domain": [0, 900], "nice": false, "zero": true},
      "axis": {
        "title": null,
        "format": "$.2f",
        "values": [0, 100, 200, 300, 400, 500, 600, 700, 800, 900],
        "labelFont": "Liberation Sans",
        "labelFontSize": 44,
        "labelColor": "#000000",
        "labelPadding": 28,
        "labelLimit": 0,
        "labelOverlap": false,
        "labelFlush": false,
        "grid": true,
        "gridColor": "#404040",
        "gridWidth": 1.5,
        "domainColor": "#404040",
        "domainWidth": 2,
        "tickColor": "#404040",
        "tickWidth": 1.5,
        "tickSize": 14
      }
    }
  }
}
